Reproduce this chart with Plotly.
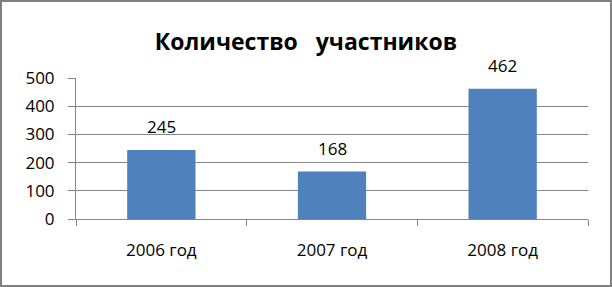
import plotly.graph_objects as go

categories = ["2006 год", "2007 год", "2008 год"]
values = [245, 168, 462]
title_text = "Количество   участников"
y_ticks = [0, 100, 200, 300, 400, 500]

W, H = 612, 287
ml, mr, mt, mb = 76, 24, 78, 68
pw, ph = W - ml - mr, H - mt - mb

fig = go.Figure()
fig.add_trace(go.Bar(
    x=categories, y=values,
    marker=dict(color="#4F81BD", line=dict(width=0)),
    width=0.4,
    showlegend=False,
))

for c, v in zip(categories, values):
    fig.add_annotation(x=c, y=v, text=str(v), showarrow=False,
                       yanchor="bottom", yshift=10,
                       font=dict(family="Open Sans", size=17, color="#000000"))

# outer frame
fig.add_shape(type="rect", xref="paper", yref="paper",
              x0=(-ml + 1) / pw, x1=(W - ml - 1) / pw,
              y0=(-mb + 1) / ph, y1=(H - mb - 1) / ph,
              line=dict(color="#808080", width=2), fillcolor="rgba(0,0,0,0)",
              layer="above")

fig.update_layout(
    width=W, height=H,
    margin=dict(l=ml, r=mr, t=mt, b=mb, pad=0),
    paper_bgcolor="white", plot_bgcolor="white",
    font=dict(family="Open Sans", size=17, color="#000000"),
    title=dict(text="<b>" + title_text + "</b>", x=0.5, xanchor="center",
               xref="container",
               y=1 - 42 / H, yanchor="middle", yref="container",
               font=dict(family="Open Sans", size=23, color="#000000")),
    bargap=0.6,
    xaxis=dict(
        type="category", tickson="boundaries",
        showline=True, linecolor="#868686", linewidth=1,
        ticks="outside", ticklen=6, tickcolor="#868686",
        showgrid=False, ticklabelstandoff=16,
        tickfont=dict(family="Open Sans", size=17, color="#000000"),
    ),
    yaxis=dict(
        range=[0, 500], tickvals=y_ticks,
        showline=True, linecolor="#868686", linewidth=1,
        ticks="outside", ticklen=7, tickcolor="#868686",
        showgrid=True, gridcolor="#868686", gridwidth=1,
        zeroline=False, ticklabelstandoff=10,
        tickfont=dict(family="Open Sans", size=17, color="#000000"),
    ),
)

fig.write_html("out.html")
